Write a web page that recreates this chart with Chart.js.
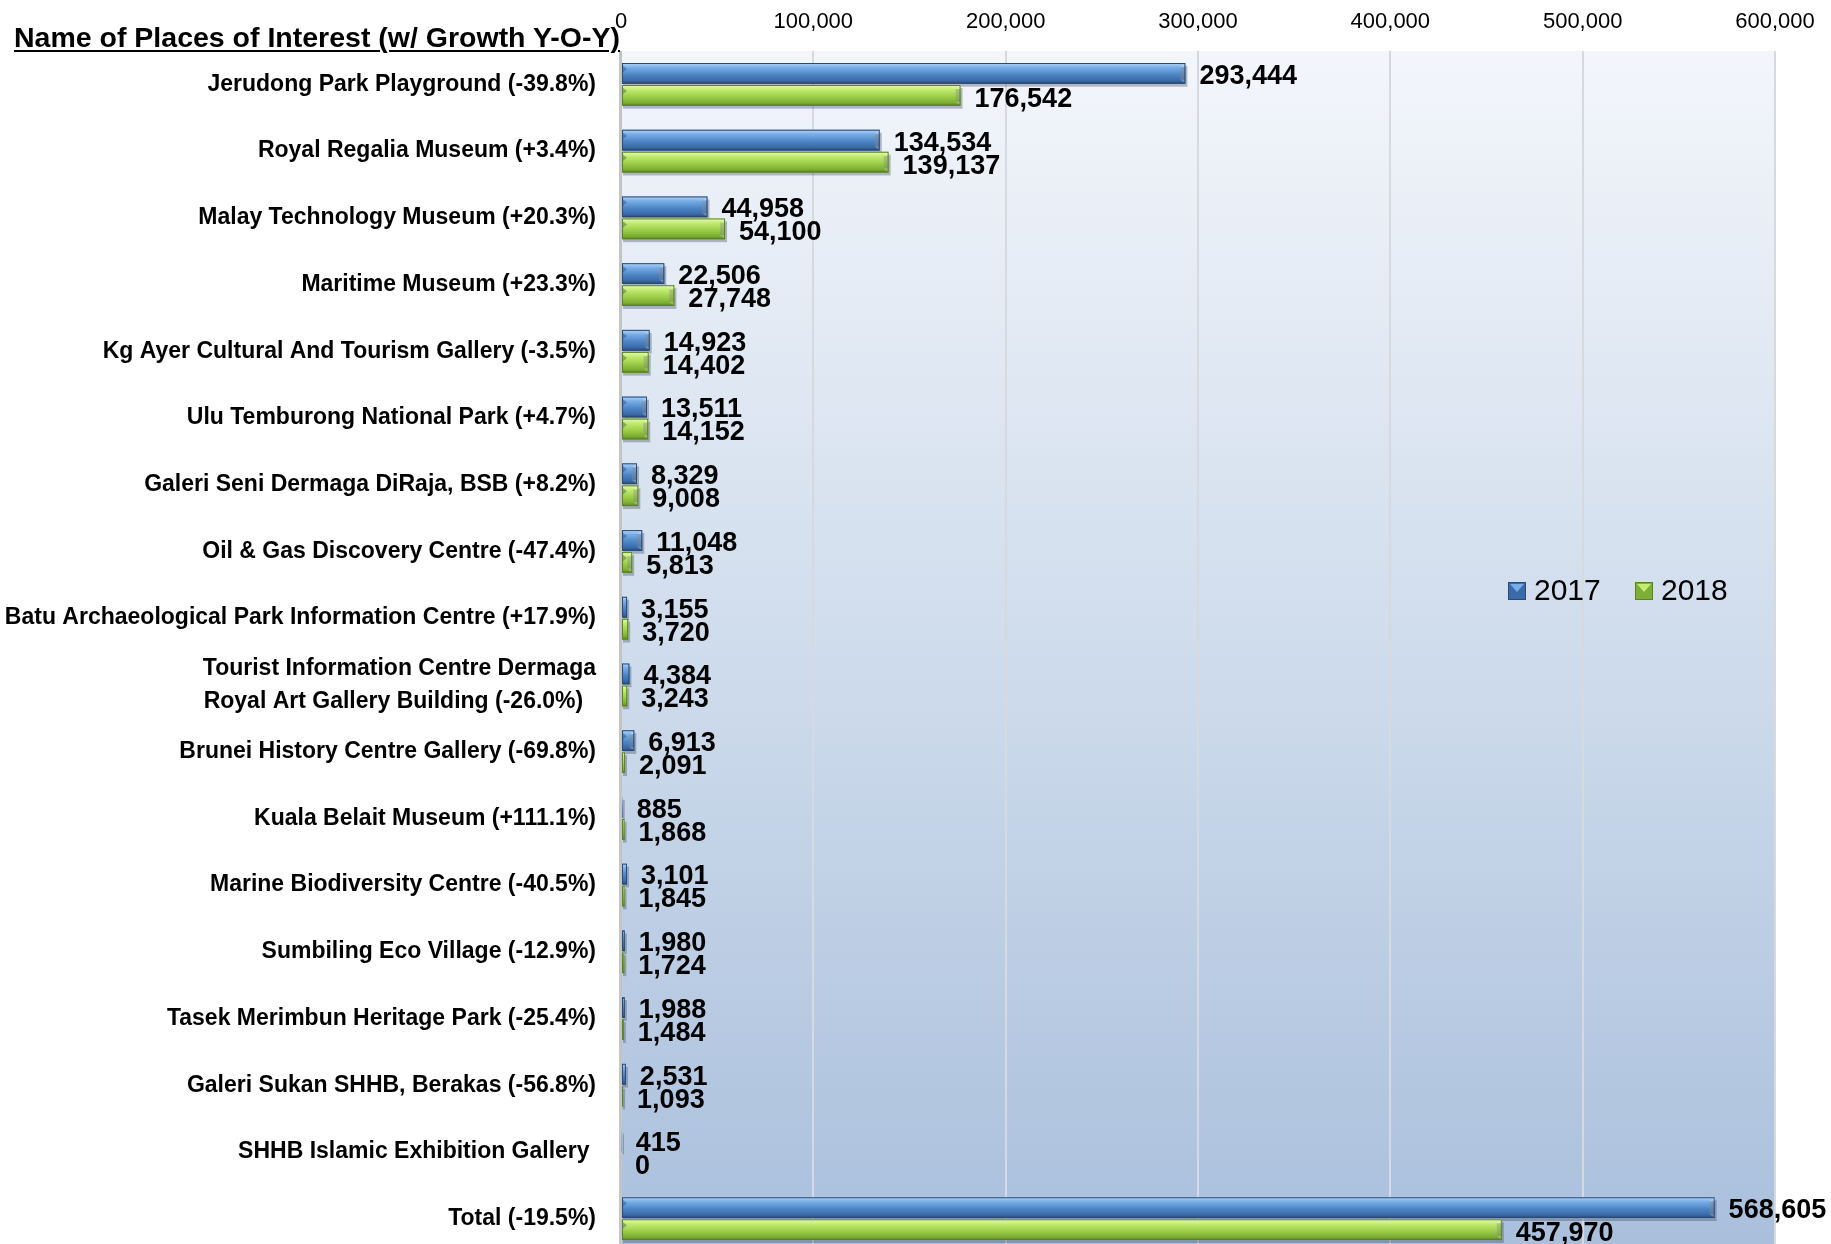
<!DOCTYPE html>
<html>
<head>
<meta charset="utf-8">
<script src="https://cdn.jsdelivr.net/npm/chart.js@4.4.1/dist/chart.umd.min.js"></script>
<style>
html, body { margin: 0; padding: 0; background: #fff; overflow: hidden; }
#wrap { position: relative; width: 1831px; height: 1244px; overflow: hidden; }
#title {
    position: absolute; left: 14px; top: 23px; margin: 0;
    font: bold 28.5px/28px "Liberation Sans", sans-serif;
    color: #000; text-decoration: underline; text-decoration-thickness: 2px;
    text-underline-offset: 3px; white-space: nowrap;
}
canvas { position: absolute; left: 0; top: 0; }
</style>
</head>
<body>
<div id="wrap">
    <canvas id="chart" width="1831" height="1256"></canvas>
    <div id="title">Name of Places of Interest (w/ Growth Y-O-Y)</div>
</div>
<script>
const places = [
    "Jerudong Park Playground (-39.8%)",
    "Royal Regalia Museum (+3.4%)",
    "Malay Technology Museum (+20.3%)",
    "Maritime Museum (+23.3%)",
    "Kg Ayer Cultural And Tourism Gallery (-3.5%)",
    "Ulu Temburong National Park (+4.7%)",
    "Galeri Seni Dermaga DiRaja, BSB (+8.2%)",
    "Oil & Gas Discovery Centre (-47.4%)",
    "Batu Archaeological Park Information Centre (+17.9%)",
    ["Tourist Information Centre Dermaga", "Royal Art Gallery Building (-26.0%)  "],
    "Brunei History Centre Gallery (-69.8%)",
    "Kuala Belait Museum (+111.1%)",
    "Marine Biodiversity Centre (-40.5%)",
    "Sumbiling Eco Village (-12.9%)",
    "Tasek Merimbun Heritage Park (-25.4%)",
    "Galeri Sukan SHHB, Berakas (-56.8%)",
    "SHHB Islamic Exhibition Gallery ",
    "Total (-19.5%)"
];

const visits2017 = [293444, 134534, 44958, 22506, 14923, 13511, 8329, 11048, 3155, 4384, 6913, 885, 3101, 1980, 1988, 2531, 415, 568605];
const visits2018 = [176542, 139137, 54100, 27748, 14402, 14152, 9008, 5813, 3720, 3243, 2091, 1868, 1845, 1724, 1484, 1093, 0, 457970];

const seriesNames = ["2017", "2018"];
const xTickValues = [0, 100000, 200000, 300000, 400000, 500000, 600000];

const FONT = "'Liberation Sans', Arial, sans-serif";

// light / mid / dark tones for the bevelled bars
const tones = [
    { light: "#b3d6f7", hi: "#78aee6", mid: "#4f86c6", low: "#3a6aa8", edge: "#284a78" },
    { light: "#e8fbb8", hi: "#c3ec70", mid: "#9dd04a", low: "#7eae33", edge: "#58851f" }
];

const fmt = (v) => v.toLocaleString("en-US");

const backgroundPlugin = {
    id: "plotBackground",
    beforeDraw(chart) {
        const { ctx, chartArea: a } = chart;
        const g = ctx.createLinearGradient(0, a.top, 0, a.bottom);
        g.addColorStop(0, "#f3f6fb");
        g.addColorStop(0.5, "#cfdcec");
        g.addColorStop(1, "#a9bfdc");
        ctx.save();
        ctx.fillStyle = g;
        ctx.fillRect(a.left, a.top, a.right - a.left, a.bottom - a.top);
        ctx.restore();
    },
    beforeDatasetsDraw(chart) {
        const { ctx, chartArea: a } = chart;
        ctx.save();
        ctx.strokeStyle = "#c4c4c4";
        ctx.lineWidth = 3;
        ctx.beginPath();
        ctx.moveTo(a.left - 0.5, a.top);
        ctx.lineTo(a.left - 0.5, a.bottom);
        ctx.stroke();
        ctx.restore();
    }
};

const bevelPlugin = {
    id: "bevelBars",
    afterDatasetsDraw(chart) {
        const ctx = chart.ctx;
        chart.data.datasets.forEach((ds, di) => {
            const meta = chart.getDatasetMeta(di);
            const t = tones[di];
            meta.data.forEach((el, i) => {
                const p = el.getProps(["x", "y", "base", "height"], true);
                const left = Math.min(p.base, p.x);
                const w = Math.abs(p.x - p.base);
                const top = p.y - p.height / 2;
                const h = p.height;
                ctx.save();
                // soft shadow
                ctx.fillStyle = "rgba(60,70,90,0.35)";
                if (w > 0) ctx.fillRect(left + 1, top + 3, w + 1, h);
                const g = ctx.createLinearGradient(0, top, 0, top + h);
                g.addColorStop(0, t.light);
                g.addColorStop(0.22, t.hi);
                g.addColorStop(0.55, t.mid);
                g.addColorStop(0.85, t.low);
                g.addColorStop(1, t.edge);
                ctx.fillStyle = g;
                ctx.fillRect(left, top, Math.max(w, 0), h);
                if (w > 8) {
                    // bevelled cap at the bar end
                    ctx.fillStyle = "rgba(255,255,255,0.25)";
                    ctx.beginPath();
                    ctx.moveTo(left + w - 5, top + 4);
                    ctx.lineTo(left + w, top);
                    ctx.lineTo(left + w, top + h);
                    ctx.lineTo(left + w - 5, top + h - 4);
                    ctx.closePath();
                    ctx.fill();
                    ctx.fillStyle = "rgba(0,0,0,0.18)";
                    ctx.fillRect(left + w - 5, top + 4, 5, h - 8);
                    // bevel at the bar start
                    ctx.fillStyle = "rgba(30,50,90,0.35)";
                    ctx.beginPath();
                    ctx.moveTo(left, top + 2);
                    ctx.lineTo(left + 5, top + 6);
                    ctx.lineTo(left, top + 10);
                    ctx.closePath();
                    ctx.fill();
                }
                ctx.strokeStyle = t.edge;
                ctx.lineWidth = 1;
                if (w > 1) ctx.strokeRect(left + 0.5, top + 0.5, w - 1, h - 1);
                ctx.restore();
            });
        });
    }
};

const valueLabelPlugin = {
    id: "valueLabels",
    afterDatasetsDraw(chart) {
        const ctx = chart.ctx;
        ctx.save();
        ctx.font = "bold 27px " + FONT;
        ctx.fillStyle = "#000";
        ctx.textAlign = "left";
        ctx.textBaseline = "middle";
        chart.data.datasets.forEach((ds, di) => {
            const meta = chart.getDatasetMeta(di);
            meta.data.forEach((el, i) => {
                const p = el.getProps(["x", "y"], true);
                ctx.fillText(fmt(ds.data[i]), p.x + 14, p.y + 3 + di);
            });
        });
        ctx.restore();
    }
};

const legendPlugin = {
    id: "innerLegend",
    afterDraw(chart) {
        const { ctx, chartArea: a } = chart;
        const cy = 591;
        const starts = [a.right - 267, a.right - 140];
        ctx.save();
        ctx.font = "30px " + FONT;
        ctx.textBaseline = "middle";
        ctx.textAlign = "left";
        seriesNames.forEach((name, i) => {
            const t = tones[i];
            const x = starts[i], s = 18, y = cy - s / 2;
            ctx.fillStyle = t.low;
            ctx.fillRect(x, y, s, s);
            ctx.fillStyle = t.hi;
            ctx.beginPath();
            ctx.moveTo(x + 2, y + 2);
            ctx.lineTo(x + s - 2, y + 2);
            ctx.lineTo(x + s / 2, y + s / 2 + 1);
            ctx.closePath();
            ctx.fill();
            ctx.strokeStyle = t.edge;
            ctx.lineWidth = 1;
            ctx.strokeRect(x + 0.5, y + 0.5, s - 1, s - 1);
            ctx.fillStyle = "#000";
            ctx.fillText(name, x + 26, cy + 1);
        });
        ctx.restore();
    }
};

const ctx = document.getElementById("chart").getContext("2d");

new Chart(ctx, {
    type: "bar",
    data: {
        labels: places,
        datasets: [
            { label: seriesNames[0], data: visits2017, backgroundColor: tones[0].mid, borderWidth: 0 },
            { label: seriesNames[1], data: visits2018, backgroundColor: tones[1].mid, borderWidth: 0 }
        ]
    },
    options: {
        indexAxis: "y",
        responsive: false,
        animation: false,
        devicePixelRatio: 1,
        categoryPercentage: 0.66,
        barPercentage: 0.94,
        layout: { padding: { left: 0, right: 56, top: 0, bottom: 4 } },
        plugins: {
            legend: { display: false },
            tooltip: { enabled: false }
        },
        scales: {
            x: {
                position: "top",
                min: 0,
                max: 600000,
                afterBuildTicks: (s) => { s.ticks = xTickValues.map(v => ({ value: v })); },
                afterFit: (s) => { s.height = 51; s.paddingLeft = 0; s.paddingRight = 0; },
                ticks: {
                    color: "#000",
                    padding: 16,
                    font: { family: FONT, size: 22 },
                    callback: (v) => fmt(v)
                },
                grid: { color: "#d6d9de", lineWidth: 2, drawTicks: false },
                border: { display: false }
            },
            y: {
                afterFit: (s) => { s.width = 621; s.paddingTop = 0; s.paddingBottom = 0; },
                ticks: {
                    color: "#000",
                    padding: 17,
                    autoSkip: false,
                    font: { family: FONT, size: 23, weight: "bold", lineHeight: 1.42 }
                },
                grid: { display: false },
                border: { display: false }
            }
        }
    },
    plugins: [backgroundPlugin, bevelPlugin, valueLabelPlugin, legendPlugin]
});
</script>
</body>
</html>
